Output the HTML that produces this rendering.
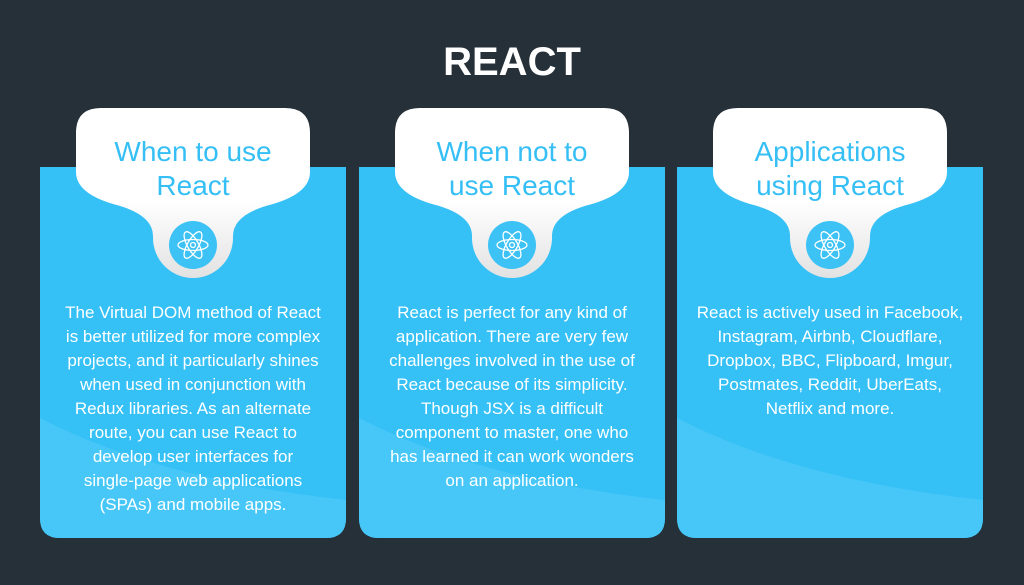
<!DOCTYPE html>
<html><head><meta charset="utf-8"><style>
html,body{margin:0;padding:0;background:#263038;}
body{width:1024px;height:585px;overflow:hidden;}
svg{display:block}
text{font-family:"Liberation Sans",sans-serif;}
</style></head><body>
<svg width="1024" height="585" viewBox="0 0 1024 585">
<defs>
<linearGradient id="bg" x1="0" y1="0" x2="0" y2="1">
<stop offset="0.55" stop-color="#ffffff"/><stop offset="1" stop-color="#e2e2e2"/></linearGradient>
<g id="bub">
<path d="M-92 108 H92 Q117 108 117 133 V172 Q117 193 80 204 Q40 214 40 236 V238 A40 40 0 0 1 -40 238 V236 Q-40 214 -80 204 Q-117 193 -117 172 V133 Q-117 108 -92 108 Z" fill="url(#bg)"/>
<circle cx="0" cy="245" r="24" fill="#3cc2f5"/>
<g fill="none" stroke="#fff" stroke-width="1.3">
<ellipse cx="0" cy="245" rx="15" ry="5.5"/>
<ellipse cx="0" cy="245" rx="15" ry="5.5" transform="rotate(60 0 245)"/>
<ellipse cx="0" cy="245" rx="15" ry="5.5" transform="rotate(-60 0 245)"/>
<circle cx="0" cy="245" r="2.5"/>
</g>
</g>
<g id="pan">
<path d="M0 167 H306 V518 Q306 538 286 538 H20 Q0 538 0 518 Z" fill="#35c0f6"/>
<path d="M0 418 Q120 480 306 500 V518 Q306 538 286 538 H20 Q0 538 0 518 Z" fill="#47c7f8"/>
</g>
</defs>
<text x="512" y="75" text-anchor="middle" fill="#fff" font-size="40" font-weight="bold">REACT</text>
<use href="#pan" x="40"/><use href="#pan" x="359"/><use href="#pan" x="677"/>
<use href="#bub" x="193"/><use href="#bub" x="512"/><use href="#bub" x="830"/>
<g fill="#35bff5" font-size="28" text-anchor="middle">
<text x="193" y="161">When to use</text><text x="193" y="195">React</text>
<text x="512" y="161">When not to</text><text x="512" y="195">use React</text>
<text x="830" y="161">Applications</text><text x="830" y="195">using React</text>
</g>
<g fill="#fff" font-size="17" text-anchor="middle">
<text x="193" y="318">The Virtual DOM method of React</text>
<text x="193" y="342">is better utilized for more complex</text>
<text x="193" y="366">projects, and it particularly shines</text>
<text x="193" y="390">when used in conjunction with</text>
<text x="193" y="414">Redux libraries. As an alternate</text>
<text x="193" y="438">route, you can use React to</text>
<text x="193" y="462">develop user interfaces for</text>
<text x="193" y="486">single-page web applications</text>
<text x="193" y="510">(SPAs) and mobile apps.</text>
<text x="512" y="318">React is perfect for any kind of</text>
<text x="512" y="342">application. There are very few</text>
<text x="512" y="366">challenges involved in the use of</text>
<text x="512" y="390">React because of its simplicity.</text>
<text x="512" y="414">Though JSX is a difficult</text>
<text x="512" y="438">component to master, one who</text>
<text x="512" y="462">has learned it can work wonders</text>
<text x="512" y="486">on an application.</text>
<text x="830" y="318">React is actively used in Facebook,</text>
<text x="830" y="342">Instagram, Airbnb, Cloudflare,</text>
<text x="830" y="366">Dropbox, BBC, Flipboard, Imgur,</text>
<text x="830" y="390">Postmates, Reddit, UberEats,</text>
<text x="830" y="414">Netflix and more.</text>
</g>
</svg>
</body></html>
